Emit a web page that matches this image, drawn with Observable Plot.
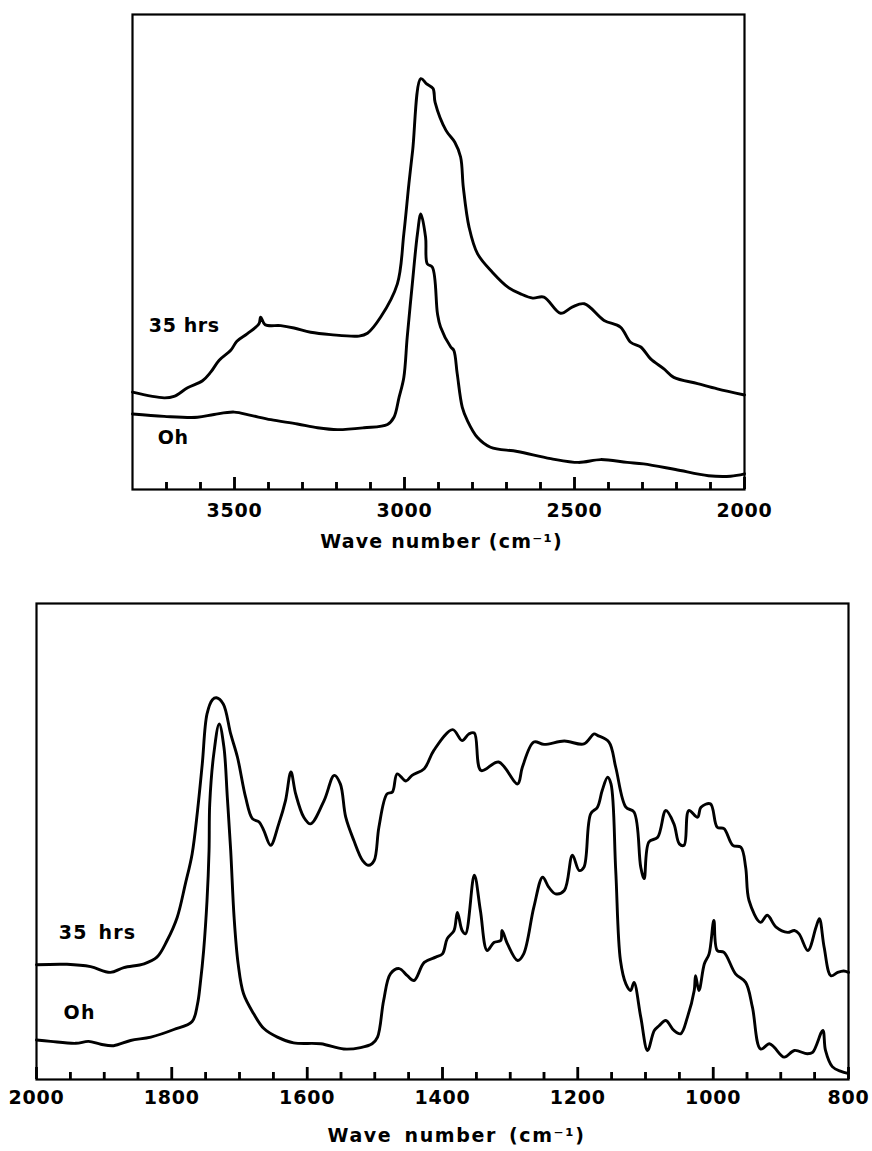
<!DOCTYPE html>
<html>
<head>
<meta charset="utf-8">
<script src="https://cdn.jsdelivr.net/npm/d3@7"></script>
<script src="https://cdn.jsdelivr.net/npm/@observablehq/plot@0.6"></script>
<style>
  body { margin: 0; background: #fff; }
  #chart svg { display: block; }
</style>
</head>
<body>
<div id="chart"></div>
<script>
// ---------- TOP PANEL (C–H stretching region) ----------
const topWave35 = [3800,3707,3678,3638,3594,3570,3545,3511,3493,3462,3428,3423,3410,3364,3325,3276,3217,3134,3109,3070,3021,3002,2987,2976,2952,2935,2916,2910,2878,2852,2835,2827,2810,2785,2741,2694,2659,2623,2590,2541,2507,2471,2413,2365,2335,2305,2276,2237,2208,2138,2080,2000];
const topAbs35  = [20.5,19.3,19.6,21.4,22.9,24.7,27.2,29.3,31.2,32.8,34.9,36.3,34.7,34.5,34.0,33.1,32.6,32.3,32.9,36.3,43.3,53.8,64.4,71.4,86.5,85.4,84.4,81.5,75.6,73.1,70.0,63.6,55.2,49.6,45.7,42.5,41.2,40.3,40.5,37.1,38.4,39.1,35.6,34.2,31.0,30.0,27.5,25.4,23.6,22.3,21.2,19.9];
const topWave0  = [3800,3707,3609,3560,3501,3452,3393,3315,3256,3197,3119,3050,3031,3016,3002,2992,2977,2962,2952,2938,2933,2918,2903,2894,2864,2855,2845,2830,2815,2786,2747,2668,2570,2488,2423,2345,2297,2203,2106,2041,2000];
const topAbs0   = [15.9,15.4,15.2,15.8,16.3,15.6,14.7,13.8,13.0,12.6,13.0,13.7,15.2,19.4,23.6,32.1,43.3,53.8,58.0,53.1,47.5,46.8,37.0,34.2,30.0,29.3,24.4,17.3,14.5,11.0,8.9,8.0,6.5,5.7,6.3,5.7,5.4,4.2,2.9,2.8,3.3];
const topDomain = [3800, 2000];
const topMajor  = [3500, 3000, 2500, 2000];
const topMinor  = [3700,3600,3400,3300,3200,3100,2900,2800,2700,2600,2400,2300,2200,2100];
const topLabelText = ["35 hrs", "Oh"];
const topLabelWave = [3752, 3726];
const topLabelAbs  = [34.5, 10.9];

// ---------- BOTTOM PANEL (fingerprint region) ----------
const botWave35 = [2000,1955,1920,1891,1871,1841,1822,1807,1792,1780,1770,1762,1755,1748,1740,1734,1724,1713,1703,1691,1681,1671,1664,1654,1642,1632,1624,1617,1605,1595,1575,1560,1551,1543,1531,1518,1509,1501,1494,1482,1474,1467,1454,1445,1427,1413,1385,1371,1361,1353,1343,1317,1289,1282,1265,1250,1220,1191,1176,1171,1154,1144,1129,1117,1107,1102,1095,1082,1070,1058,1050,1043,1036,1023,1018,1004,994,984,971,959,952,947,930,920,907,890,880,873,860,848,843,836,826,816,807,800];
const botAbs35  = [24.1,24.2,23.7,22.5,23.5,24.3,25.7,29.2,34.1,41.1,47.4,56.5,66.3,76.8,79.8,80.2,78.9,72.6,67.7,59.3,54.8,54.1,52.3,49.2,53.7,58.6,64.6,60.0,55.1,53.7,58.6,63.9,62.1,55.1,50.2,46.0,45.0,46.0,53.0,60.0,60.4,64.2,62.7,63.9,65.3,69.1,73.5,71.2,72.6,72.8,64.9,66.7,62.1,65.6,70.9,70.4,71.1,70.5,72.6,72.3,70.9,65.6,57.2,56.2,44.6,42.2,49.9,50.9,56.5,53.7,49.5,49.2,56.5,55.1,57.2,57.9,53.0,52.7,49.2,48.8,44.6,37.6,33.0,34.5,32.0,30.9,31.3,30.6,27.1,32.0,33.8,27.8,21.8,22.5,22.8,22.5];
const botWave0  = [2000,1979,1942,1923,1905,1886,1861,1831,1797,1770,1762,1758,1753,1748,1745,1744,1738,1730,1723,1718,1713,1708,1702,1694,1679,1664,1644,1620,1580,1546,1521,1504,1496,1487,1477,1464,1452,1442,1427,1410,1400,1393,1383,1378,1371,1366,1353,1344,1334,1324,1314,1312,1304,1289,1280,1265,1252,1243,1233,1220,1208,1198,1191,1181,1171,1164,1156,1151,1144,1137,1129,1122,1117,1107,1097,1087,1080,1070,1058,1048,1038,1028,1026,1021,1013,1006,999,994,984,967,952,942,930,917,910,895,880,861,853,838,834,824,811,801];
const botAbs0   = [8.3,8.0,7.6,8.0,7.4,7.1,8.2,8.9,10.5,12.2,15.9,20.1,27.1,37.6,48.1,57.9,68.4,74.7,69.8,59.3,48.1,34.1,24.3,18.0,13.8,10.7,8.9,7.7,7.5,6.4,6.7,7.5,8.9,16.6,22.2,23.3,21.8,20.8,24.6,25.7,26.4,29.6,31.3,35.1,31.3,30.6,42.9,35.5,27.1,28.8,29.2,31.3,28.5,25.0,26.4,36.2,42.5,40.4,39.0,39.7,47.1,43.9,44.6,55.8,57.2,60.7,63.5,62.1,43.9,25.0,20.1,18.7,20.4,13.1,6.1,10.3,11.3,12.4,10.3,9.6,13.1,18.7,21.8,18.7,24.3,26.4,33.4,27.1,26.7,22.2,20.4,15.2,6.4,7.5,6.8,4.7,6.1,5.4,5.7,10.3,6.1,2.7,1.7,1.3];
const botDomain = [2000, 800];
const botMajor  = [2000, 1800, 1600, 1400, 1200, 1000, 800];
const botMinor  = [1950,1900,1850,1750,1700,1650,1550,1500,1450,1350,1300,1250,1150,1100,1050,950,900,850];
const botLabelText = ["35 hrs", "Oh"];
const botLabelWave = [1967, 1960];
const botLabelAbs  = [30.9, 13.9];

const axisTitle = "Wave number (cm\u207B\u00B9)";
const absDomain = [0, 100];

const FONT = "'DejaVu Sans', Verdana, sans-serif";

function makePanel(cfg) {
  const rows = [];
  cfg.w35.forEach((w, i) => rows.push({series: "35 hrs", wave: w, abs: cfg.a35[i]}));
  cfg.w0.forEach((w, i) => rows.push({series: "0 h", wave: w, abs: cfg.a0[i]}));
  const labels = cfg.labelText.map((t, i) => ({text: t, wave: cfg.labelWave[i], abs: cfg.labelAbs[i]}));
  const innerH = cfg.height - cfg.marginTop - cfg.marginBottom;
  const span = absDomain[1] - absDomain[0];
  const tickTop = (p) => absDomain[0] + p * span / innerH; // tick length in pixels -> y units
  return Plot.plot({
    width: 872,
    height: cfg.height,
    marginTop: cfg.marginTop,
    marginBottom: cfg.marginBottom,
    marginLeft: cfg.marginLeft,
    marginRight: cfg.marginRight,
    style: {fontFamily: FONT, color: "#000", background: "#fff", overflow: "visible"},
    x: {domain: cfg.domain},
    y: {domain: absDomain, axis: null},
    marks: [
      Plot.frame({stroke: "#000", strokeWidth: 2.2}),
      Plot.ruleX(cfg.minor, {x: d => d, y1: absDomain[0], y2: tickTop(7), stroke: "#000", strokeWidth: 2.5}),
      Plot.ruleX(cfg.major, {x: d => d, y1: absDomain[0], y2: tickTop(12), stroke: "#000", strokeWidth: 2.5}),
      Plot.axisX(cfg.minor, {label: null, tickSize: 7, dy: -7, tickFormat: () => "", stroke: "#000", strokeWidth: 2.5}),
      Plot.axisX(cfg.major, {label: null, tickSize: 12, dy: -12, tickFormat: () => "", stroke: "#000", strokeWidth: 2.5}),
      Plot.line(rows, {x: "wave", y: "abs", z: "series", curve: "catmull-rom", stroke: "#000", strokeWidth: 2.9, strokeLinejoin: "round", strokeLinecap: "round"}),
      Plot.axisX(cfg.major, {label: null, tickSize: 0, tickPadding: cfg.tickPad, tickFormat: d => `${d}`, fontSize: 19, fontWeight: "bold", fill: "#000"}),
      Plot.text(labels, {x: "wave", y: "abs", text: "text", textAnchor: "start", fontSize: 19, fontWeight: "bold", fill: "#000"}),
      Plot.text([axisTitle], {frameAnchor: "bottom", dx: cfg.titleDx, dy: cfg.titleDy, fontSize: 19, fontWeight: "bold", fill: "#000"})
    ]
  });
}

const topPanel = makePanel({
  w35: topWave35, a35: topAbs35, w0: topWave0, a0: topAbs0,
  domain: topDomain, major: topMajor, minor: topMinor,
  labelText: topLabelText, labelWave: topLabelWave, labelAbs: topLabelAbs,
  height: 580, marginTop: 14, marginBottom: 91, marginLeft: 132, marginRight: 128,
  tickPad: 14, titleDx: 3, titleDy: 58
});
const bottomPanel = makePanel({
  w35: botWave35, a35: botAbs35, w0: botWave0, a0: botAbs0,
  domain: botDomain, major: botMajor, minor: botMinor,
  labelText: botLabelText, labelWave: botLabelWave, labelAbs: botLabelAbs,
  height: 571, marginTop: 23, marginBottom: 72, marginLeft: 36, marginRight: 24,
  tickPad: 11, titleDx: 14, titleDy: 62
});
const chartEl = document.getElementById("chart");
chartEl.appendChild(topPanel);
chartEl.appendChild(bottomPanel);
d3.selectAll("#chart svg text").filter(function() { return /^\d+$/.test(this.textContent); })
  .style("letter-spacing", "0.8px");
d3.select(topPanel).selectAll("text").filter(function() { return this.textContent === axisTitle; })
  .style("letter-spacing", "1.2px");
d3.select(bottomPanel).selectAll("text").filter(function() { return this.textContent === axisTitle; })
  .style("letter-spacing", "1.6px").style("word-spacing", "4px");
d3.select(topPanel).selectAll("text").filter(function() { return this.textContent === "35 hrs" || this.textContent === "Oh"; })
  .style("letter-spacing", "0.6px");
d3.select(bottomPanel).selectAll("text").filter(function() { return this.textContent === "35 hrs" || this.textContent === "Oh"; })
  .style("letter-spacing", "1.2px").style("word-spacing", "3px");
</script>
</body>
</html>
